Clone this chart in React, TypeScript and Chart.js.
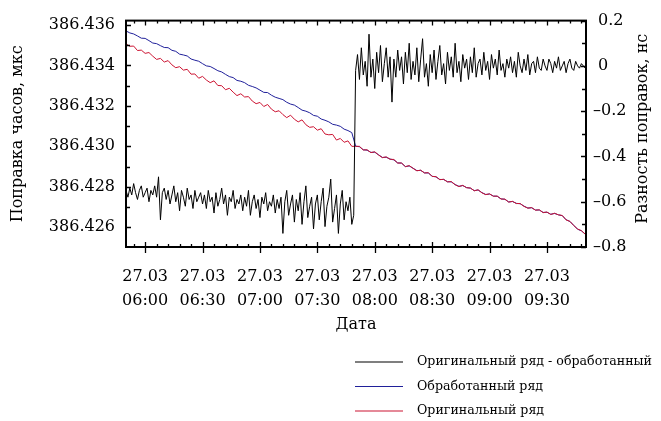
import React, { useEffect, useRef } from 'react';
import { Chart, registerables } from 'chart.js';

Chart.register(...registerables);

const FONT = '"DejaVu Serif", "Liberation Serif", serif';

// x axis: minutes since 00:00 of 27.03
const X_MIN = 350;
const X_MAX = 590.4;
const X_TICKS = [360, 390, 420, 450, 480, 510, 540, 570];
const X_DATE = '27.03';
const X_TITLE = 'Дата';

const Y_LEFT_MIN = 386.42502;
const Y_LEFT_MAX = 386.43622;
const Y_LEFT_TICKS = [386.426, 386.428, 386.43, 386.432, 386.434, 386.436];
const Y_LEFT_TITLE = 'Поправка часов, мкс';

const Y_RIGHT_MIN = -0.8;
const Y_RIGHT_MAX = 0.2;
const Y_RIGHT_TICKS = [0.2, 0, -0.2, -0.4, -0.6, -0.8];
const Y_RIGHT_TITLE = 'Разность поправок, нс';

const LABEL_DIFF = 'Оригинальный ряд - обработанный';
const LABEL_PROCESSED = 'Обработанный ряд';
const LABEL_ORIGINAL = 'Оригинальный ряд';

const COLOR_DIFF = '#000000';
const COLOR_PROCESSED = '#20209a';
const COLOR_ORIGINAL = '#cc1533';

// difference series (right axis), one value per minute from 05:50
const DIFF_START = 350;
const DIFF_STEP = 1;
const DIFF_VALUES = [
  -0.55, -0.58, -0.54, -0.57, -0.52, -0.56, -0.59, -0.55, -0.53, -0.58, -0.56, -0.54, -0.60, -0.55, -0.57, -0.53, -0.58, -0.49, -0.68, -0.56,
  -0.54, -0.59, -0.55, -0.61, -0.57, -0.53, -0.60, -0.56, -0.64, -0.55, -0.58, -0.62, -0.54, -0.59, -0.57, -0.63, -0.55, -0.60, -0.58, -0.56,
  -0.61, -0.57, -0.63, -0.55, -0.60, -0.58, -0.65, -0.56, -0.62, -0.59, -0.54, -0.61, -0.57, -0.66, -0.58, -0.60, -0.55, -0.63, -0.59, -0.61,
  -0.57, -0.64, -0.58, -0.62, -0.55, -0.66, -0.60, -0.57, -0.63, -0.59, -0.67, -0.58, -0.61, -0.56, -0.64, -0.60, -0.62, -0.57, -0.65, -0.59,
  -0.63, -0.58, -0.74, -0.60, -0.55, -0.66, -0.61, -0.57, -0.69, -0.59, -0.64, -0.56, -0.70, -0.60, -0.53, -0.67, -0.62, -0.58, -0.72, -0.61,
  -0.57, -0.68, -0.60, -0.54, -0.71, -0.62, -0.58, -0.50, -0.69, -0.63, -0.57, -0.74, -0.61, -0.55, -0.68, -0.60, -0.64, -0.58, -0.70, -0.66,
  -0.02, 0.05, -0.06, 0.08, -0.04, 0.02, -0.09, 0.14, -0.05, 0.03, -0.10, 0.06, -0.03, 0.09, -0.07, 0.01, 0.08, -0.05, 0.04, -0.16,
  0.03, -0.05, 0.07, -0.02, 0.04, -0.08, 0.06, -0.03, 0.10, -0.06, 0.02, -0.04, 0.08, -0.07, 0.03, 0.12, -0.05, 0.01, -0.09, 0.05,
  -0.03, 0.07, -0.06, 0.02, 0.09, -0.04, 0.01, -0.08, 0.06, -0.02, 0.04, -0.05, 0.10, -0.03, 0.02, -0.07, 0.05, -0.01, 0.03, -0.06,
  0.04, -0.03, 0.08, -0.05, 0.01, 0.03, -0.04, 0.06, -0.02, 0.02, -0.06, 0.05, -0.01, 0.03, -0.04, 0.07, -0.02, 0.01, -0.05, 0.03,
  -0.01, 0.04, -0.03, 0.02, -0.05, 0.06, 0.00, -0.03, 0.03, -0.02, 0.05, -0.04, 0.01, 0.02, -0.03, 0.04, -0.01, -0.02, 0.03, 0.00,
  -0.02, 0.03, 0.01, -0.03, 0.02, -0.01, 0.04, -0.02, 0.00, 0.02, -0.03, 0.01, 0.03, -0.01, -0.02, 0.02, 0.00, -0.01, 0.01, 0.00, -0.01,
];

// clock corrections (left axis), one value every 2 minutes from 05:50
const SERIES_START = 350;
const SERIES_STEP = 2;
const PROCESSED_VALUES = [
  386.43571, 386.43561, 386.43556, 386.43546, 386.43535, 386.43534, 386.43523, 386.43511, 386.43508, 386.43498,
  386.43489, 386.43488, 386.43475, 386.43470, 386.43456, 386.43452, 386.43447, 386.43432, 386.43426, 386.43421,
  386.43409, 386.43398, 386.43395, 386.43385, 386.43374, 386.43368, 386.43356, 386.43345, 386.43340, 386.43326,
  386.43322, 386.43315, 386.43302, 386.43296, 386.43289, 386.43278, 386.43267, 386.43266, 386.43253, 386.43243,
  386.43237, 386.43231, 386.43218, 386.43209, 386.43204, 386.43192, 386.43179, 386.43174, 386.43166, 386.43153,
  386.43149, 386.43135, 386.43129, 386.43121, 386.43109, 386.43105, 386.43099, 386.43085, 386.43078, 386.43068,
  386.43001, 386.42998, 386.42983, 386.42981, 386.42970, 386.42971, 386.42958, 386.42945, 386.42946, 386.42937,
  386.42933, 386.42918, 386.42917, 386.42900, 386.42903, 386.42892, 386.42880, 386.42881, 386.42869, 386.42868,
  386.42852, 386.42849, 386.42836, 386.42836, 386.42825, 386.42824, 386.42811, 386.42802, 386.42806, 386.42796,
  386.42793, 386.42781, 386.42784, 386.42771, 386.42762, 386.42764, 386.42754, 386.42753, 386.42740, 386.42738,
  386.42725, 386.42727, 386.42718, 386.42716, 386.42704, 386.42695, 386.42696, 386.42685, 386.42685, 386.42673,
  386.42674, 386.42664, 386.42668, 386.42661, 386.42657, 386.42637, 386.42628, 386.42609, 386.42590, 386.42582,
  386.42566,
];
const ORIGINAL_VALUES = [
  386.43507, 386.43495, 386.43496, 386.43474, 386.43476, 386.43460, 386.43464, 386.43446, 386.43430, 386.43435,
  386.43417, 386.43424, 386.43403, 386.43389, 386.43394, 386.43377, 386.43381, 386.43357, 386.43358, 386.43337,
  386.43346, 386.43328, 386.43315, 386.43324, 386.43301, 386.43300, 386.43280, 386.43287, 386.43268, 386.43251,
  386.43260, 386.43244, 386.43246, 386.43224, 386.43211, 386.43217, 386.43197, 386.43207, 386.43184, 386.43171,
  386.43176, 386.43157, 386.43142, 386.43154, 386.43134, 386.43121, 386.43131, 386.43107, 386.43094, 386.43097,
  386.43080, 386.43087, 386.43061, 386.43057, 386.43059, 386.43031, 386.43039, 386.43020, 386.43027, 386.43000,
  386.43000, 386.43000, 386.42982, 386.42983, 386.42969, 386.42973, 386.42957, 386.42944, 386.42948, 386.42936,
  386.42935, 386.42917, 386.42918, 386.42899, 386.42905, 386.42891, 386.42879, 386.42882, 386.42868, 386.42870,
  386.42851, 386.42850, 386.42835, 386.42837, 386.42824, 386.42826, 386.42810, 386.42801, 386.42807, 386.42795,
  386.42794, 386.42780, 386.42785, 386.42770, 386.42761, 386.42765, 386.42753, 386.42754, 386.42739, 386.42739,
  386.42724, 386.42728, 386.42717, 386.42717, 386.42703, 386.42694, 386.42697, 386.42684, 386.42686, 386.42672,
  386.42675, 386.42663, 386.42669, 386.42661, 386.42658, 386.42636, 386.42629, 386.42608, 386.42591, 386.42583,
  386.42565,
];

const toPoints = (values: number[], start: number, step: number) =>
  values.map((y, i) => ({ x: start + i * step, y }));

const fmtTime = (m: number) => {
  const h = Math.floor(m / 60);
  const mm = Math.round(m - h * 60);
  return `${String(h).padStart(2, '0')}:${String(mm).padStart(2, '0')}`;
};

const fmtRight = (v: number) => {
  if (Math.abs(v) < 1e-9) return ' 0';
  return v > 0 ? ' ' + v.toFixed(1) : '\u2013' + Math.abs(v).toFixed(1);
};

const framePlugin = {
  id: 'frameTicks',
  afterDraw(chart: any) {
    const { ctx, chartArea } = chart;
    const { left, right, top, bottom } = chartArea;
    const xs = chart.scales.x;
    const yl = chart.scales.y;
    const yr = chart.scales.y2;
    ctx.save();
    ctx.strokeStyle = '#000';
    ctx.lineWidth = 1.3;
    ctx.beginPath();
    // x ticks: major every 30 min, minor every 6 min
    for (let v = 354; v <= 590; v += 6) {
      const px = Math.round(xs.getPixelForValue(v)) + 0.5;
      const major = X_TICKS.includes(v);
      if (major) {
        ctx.moveTo(px, bottom + 6);
        ctx.lineTo(px, bottom - 5);
        ctx.moveTo(px, top);
        ctx.lineTo(px, top + 5);
      } else {
        ctx.moveTo(px, bottom);
        ctx.lineTo(px, bottom - 3);
        ctx.moveTo(px, top);
        ctx.lineTo(px, top + 3);
      }
    }
    // left ticks every 0.001
    for (let k = 0; k <= 11; k++) {
      const v = 386.425 + k * 0.001;
      if (v < Y_LEFT_MIN || v > Y_LEFT_MAX) continue;
      const py = Math.round(yl.getPixelForValue(v)) + 0.5;
      const major = k % 2 === 1;
      ctx.moveTo(left, py);
      ctx.lineTo(left + (major ? 5 : 4), py);
    }
    // right ticks every 0.1
    for (let k = 0; k <= 10; k++) {
      const v = -0.8 + k * 0.1;
      const py = Math.round(yr.getPixelForValue(v)) + 0.5;
      ctx.moveTo(right, py);
      ctx.lineTo(right - (k % 2 === 0 ? 5 : 4), py);
    }
    ctx.stroke();
    ctx.lineWidth = 2;
    ctx.strokeRect(left, top, right - left, bottom - top);

    // right axis title (reads bottom to top)
    ctx.fillStyle = '#000';
    ctx.font = `16px ${FONT}`;
    ctx.textAlign = 'center';
    ctx.textBaseline = 'middle';
    ctx.save();
    ctx.translate(643, (top + bottom) / 2 - 5);
    ctx.rotate(-Math.PI / 2);
    ctx.fillText(Y_RIGHT_TITLE, 0, 0);
    ctx.restore();

    // legend, stacked vertically
    ctx.font = `12.6px ${FONT}`;
    ctx.textAlign = 'left';
    chart.data.datasets.forEach((ds: any, i: number) => {
      const y = 362 + i * 24.5;
      ctx.strokeStyle = ds.borderColor;
      ctx.lineWidth = 1.2;
      ctx.beginPath();
      ctx.moveTo(355, y);
      ctx.lineTo(403, y);
      ctx.stroke();
      ctx.fillStyle = '#000';
      ctx.fillText(ds.label, 417, y);
    });
    ctx.restore();
  },
};

export default function App() {
  const ref = useRef<HTMLCanvasElement>(null);
  useEffect(() => {
    if (!ref.current) return;
    const chart = new Chart(ref.current, {
      type: 'line',
      data: {
        datasets: [
          {
            label: LABEL_DIFF,
            data: toPoints(DIFF_VALUES, DIFF_START, DIFF_STEP),
            borderColor: COLOR_DIFF,
            borderWidth: 1,
            yAxisID: 'y2',
            order: 0,
          },
          {
            label: LABEL_PROCESSED,
            data: toPoints(PROCESSED_VALUES, SERIES_START, SERIES_STEP),
            borderColor: COLOR_PROCESSED,
            borderWidth: 1,
            yAxisID: 'y',
            order: 2,
          },
          {
            label: LABEL_ORIGINAL,
            data: toPoints(ORIGINAL_VALUES, SERIES_START, SERIES_STEP),
            borderColor: COLOR_ORIGINAL,
            borderWidth: 1,
            yAxisID: 'y',
            order: 1,
          },
        ],
      },
      options: {
        responsive: false,
        animation: false,
        devicePixelRatio: 1,
        layout: { padding: { top: 13, left: 0, right: 0, bottom: 0 } },
        elements: { point: { radius: 0 }, line: { tension: 0 } },
        plugins: { legend: { display: false }, tooltip: { enabled: false } },
        scales: {
          x: {
            type: 'linear',
            position: 'bottom',
            min: X_MIN,
            max: X_MAX,
            grid: { display: false, drawTicks: false },
            border: { display: false },
            afterBuildTicks: (s: any) => {
              s.ticks = X_TICKS.map((v) => ({ value: v }));
            },
            afterFit: (s: any) => {
              s.height = 174;
            },
            ticks: {
              color: '#000',
              padding: 18,
              maxRotation: 0,
              autoSkip: false,
              font: { family: FONT, size: 16, lineHeight: 1.5 },
              callback: (v: any) => [X_DATE, fmtTime(Number(v))],
            },
            title: {
              display: true,
              text: X_TITLE,
              color: '#000',
              font: { family: FONT, size: 16 },
              padding: { top: 4, bottom: 87 },
            },
          },
          y: {
            position: 'left',
            min: Y_LEFT_MIN,
            max: Y_LEFT_MAX,
            grid: { display: false, drawTicks: false },
            border: { display: false },
            afterBuildTicks: (s: any) => {
              s.ticks = Y_LEFT_TICKS.map((v) => ({ value: v }));
            },
            afterFit: (s: any) => {
              s.width = 126;
            },
            ticks: {
              color: '#000',
              padding: 11,
              font: { family: FONT, size: 16 },
              callback: (v: any) => Number(v).toFixed(3),
            },
            title: {
              display: true,
              text: Y_LEFT_TITLE,
              color: '#000',
              font: { family: FONT, size: 16 },
              padding: { top: 8, bottom: 4 },
            },
          },
          y2: {
            position: 'right',
            min: Y_RIGHT_MIN,
            max: Y_RIGHT_MAX,
            grid: { display: false, drawTicks: false },
            border: { display: false },
            afterBuildTicks: (s: any) => {
              s.ticks = Y_RIGHT_TICKS.map((v) => ({ value: v }));
            },
            afterFit: (s: any) => {
              s.width = 75;
            },
            ticks: {
              color: '#000',
              padding: 7,
              font: { family: FONT, size: 16 },
              callback: (v: any) => fmtRight(Number(v)),
            },
          },
        },
      },
      plugins: [framePlugin],
    } as any);
    return () => chart.destroy();
  }, []);
  return (
    <div style={{ position: 'fixed', left: 0, top: 0, width: 661, height: 421, background: '#fff' }}>
      <canvas ref={ref} width={661} height={421} style={{ display: 'block', width: 661, height: 421 }} />
    </div>
  );
}
